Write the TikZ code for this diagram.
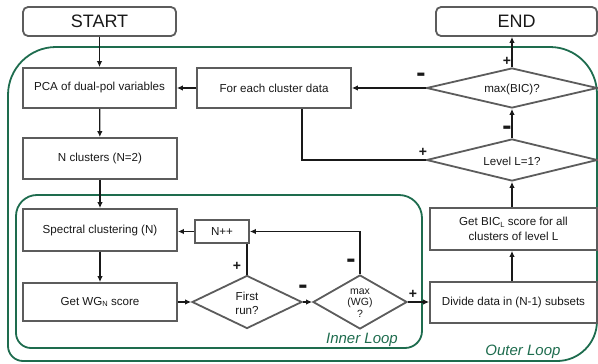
\documentclass[tikz,border=0pt]{standalone}
\usepackage{fontspec}
\setmainfont{Liberation Sans}
\usetikzlibrary{arrows.meta,shapes.geometric}
\definecolor{boxgray}{RGB}{92,92,92}
\definecolor{loopgreen}{RGB}{30,108,78}
\definecolor{linec}{RGB}{25,25,25}
\newcommand{\subtxt}[1]{\raisebox{-0.25ex}{\fontsize{7.5}{8}\selectfont #1}}
\newcommand{\thickminus}{\scalebox{1}[2.1]{−}}
\begin{document}
\begin{tikzpicture}[x=1pt,y=-1pt,
  box/.style={draw=boxgray, line width=1.8pt, fill=white, inner sep=0pt, text=linec,
    font=\fontsize{11.6}{15}\selectfont, align=center},
  termbox/.style={box, rounded corners=5pt, font=\fontsize{18}{20}\selectfont},
  decision/.style={diamond, draw=boxgray, line width=1.8pt, fill=white, inner sep=0pt},
  dtext/.style={text=linec, align=center, inner sep=0pt, font=\fontsize{11.6}{14}\selectfont},
  loopline/.style={draw=loopgreen, line width=1.8pt},
  looplabel/.style={text=loopgreen, font=\fontsize{15}{15}\selectfont\itshape, inner sep=0pt},
  conn/.style={draw=linec, line width=1.3pt},
  arr/.style={conn, -{Latex[length=6pt,width=5.5pt]}},
  sign/.style={text=linec, font=\fontsize{14}{14}\selectfont\bfseries, inner sep=0pt}
]
\useasboundingbox (0,0) rectangle (598,364);

% outer loop
\draw[loopline, rounded corners=48pt] (8,200) |- (300,47);
\draw[loopline, rounded corners=47pt] (299,47) -| (597,200);
\draw[loopline, rounded corners=40pt] (597,199) |- (300,361);
\draw[loopline, rounded corners=15pt] (301,361) -| (8,199);
% inner loop
\draw[loopline, rounded corners=21pt] (16,270) |- (220,195);
\draw[loopline, rounded corners=23pt] (219,195) -| (422,270);
\draw[loopline, rounded corners=17pt] (422,269) |- (220,348);
\draw[loopline, rounded corners=15pt] (221,348) -| (16,269);

\node[looplabel] (innerlbl) at (362,340) {Inner Loop};
\node[looplabel] (outerlbl) at (523,352) {Outer Loop};

% boxes
\node[termbox, minimum width=153pt, minimum height=29pt] (start) at (99.5,21.5) {START};
\node[termbox, minimum width=161pt, minimum height=29pt] (end) at (516.5,21.5) {END};
\node[box, minimum width=153pt, minimum height=40pt] (pca) at (99.5,88) {PCA of dual-pol variables};
\node[box, minimum width=154pt, minimum height=40pt] (foreach) at (274,88) {For each cluster data};
\node[box, minimum width=154pt, minimum height=41pt] (ncl) at (100,158.5) {N clusters (N=2)};
\node[box, minimum width=154pt, minimum height=42pt] (spec) at (100,230) {Spectral clustering (N)};
\node[box, minimum width=54pt, minimum height=23pt] (npp) at (222,231.5) {N++};
\node[box, minimum width=154pt, minimum height=38pt] (wgn) at (100,302) {Get WG\subtxt{N} score};
\node[box, minimum width=167pt, minimum height=41pt] (divide) at (513.5,302.5) {Divide data in (N-1) subsets};
\node[box, minimum width=167pt, minimum height=42pt] (bic) at (513.5,229) {Get BIC\subtxt{L} score for all\\clusters of level L};

% decisions
\node[decision, minimum width=110pt, minimum height=53pt] (first) at (247,302) {};
\node[dtext] (firsttxt) at (247,303) {First\\run?};
\node[decision, minimum width=94pt, minimum height=54pt] (maxwg) at (360,302) {};
\node[dtext, font=\fontsize{10.5}{11.5}\selectfont] (maxwgtxt) at (360,303) {max\\(WG)\\?};
\node[decision, minimum width=171pt, minimum height=42pt] (level) at (512,160) {};
\node[dtext] (leveltxt) at (512,161) {Level L=1?};
\node[decision, minimum width=171pt, minimum height=40pt] (maxbic) at (512,88) {};
\node[dtext] (maxbictxt) at (512,89) {max(BIC)?};

% connectors
\draw[arr] (start) -- (pca);
\draw[arr] (pca) -- (ncl);
\draw[arr] (ncl) -- (spec);
\draw[arr] (spec) -- (wgn);
\draw[arr] (wgn.east) -- (first.west);
\draw[conn] (first.north) -- (first.north |- npp.south);
\draw[arr] (npp.west) -- (npp.west -| spec.east);
\draw[arr] (first.east) -- (maxwg.west);
\draw[arr] (maxwg.north) |- (npp.east);
\draw[arr] (maxwg.east) -- (maxwg.east -| divide.west);
\draw[arr] (divide.north -| level.south) -- (bic.south -| level.south);
\draw[arr] (bic.north -| level.south) -- (level.south);
\draw[arr] (level.north) -- (maxbic.south);
\draw[arr] (maxbic.north) -- (maxbic.north |- end.south);
\draw[conn] (level.west) -| ([xshift=28pt]foreach.south);
\draw[arr] (maxbic.west) -- (foreach.east);
\draw[arr] (foreach.west) -- (pca.east);

% signs
\node[sign] (s1) at (237,266) {+};
\node[sign] (s2) at (303,291) {\thickminus};
\node[sign] (s3) at (351,265) {\thickminus};
\node[sign] (s4) at (413,294) {+};
\node[sign] (s5) at (507,132) {\thickminus};
\node[sign] (s6) at (423,152) {+};
\node[sign] (s7) at (421,79) {\thickminus};
\node[sign] (s8) at (507,61) {+};
\end{tikzpicture}
\end{document}
